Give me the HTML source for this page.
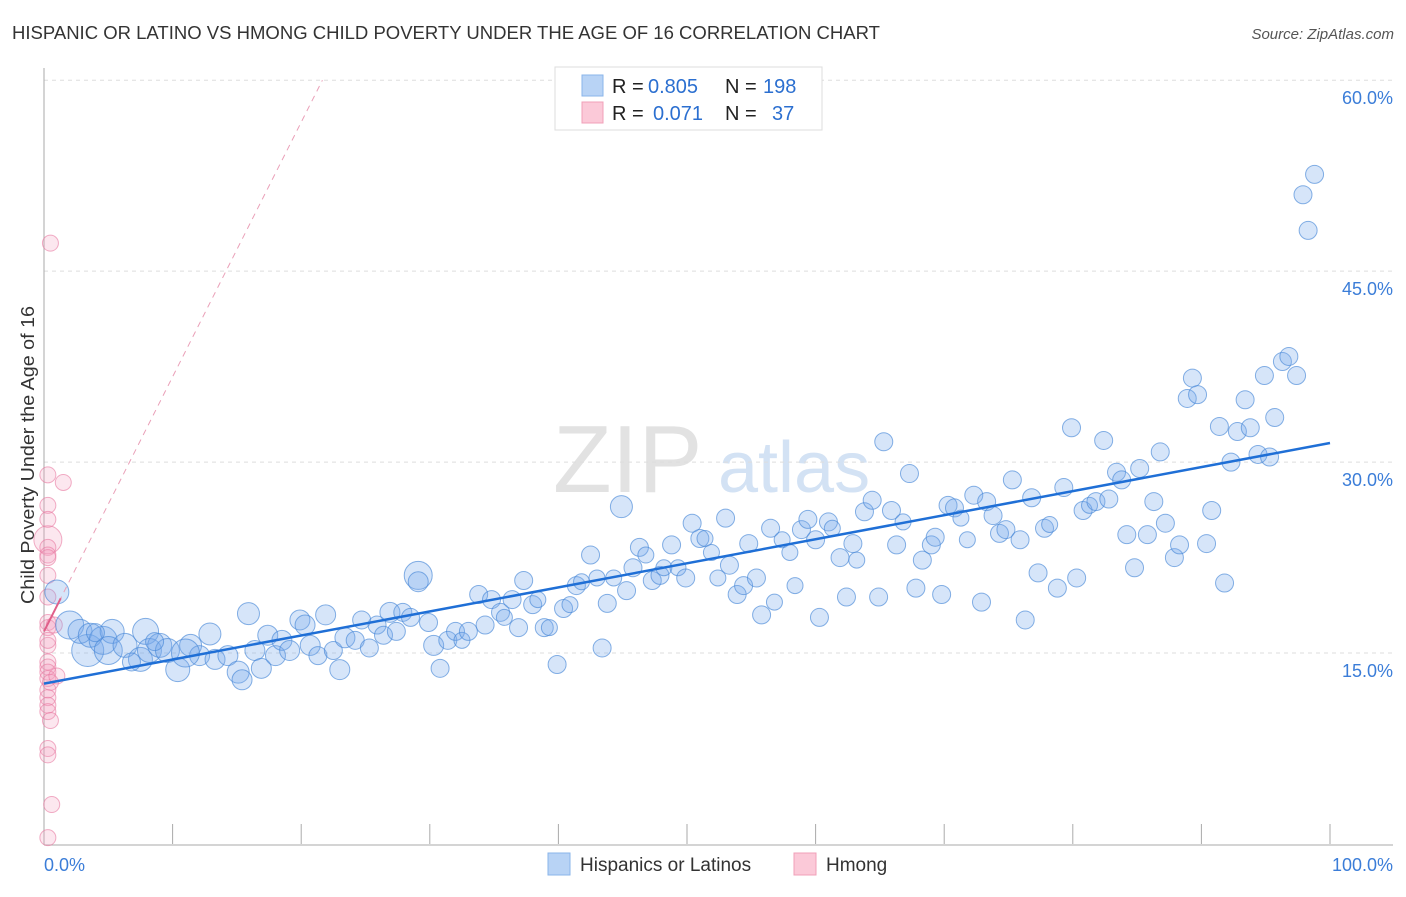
<!DOCTYPE html>
<html><head><meta charset="utf-8"><style>
body{margin:0;background:#fff;font-family:"Liberation Sans",sans-serif}
svg text{font-family:"Liberation Sans",sans-serif}
</style></head><body>
<svg id="chart" width="1406" height="892">
<text x="12" y="39" font-size="18" fill="#333" textLength="868" lengthAdjust="spacingAndGlyphs">HISPANIC OR LATINO VS HMONG CHILD POVERTY UNDER THE AGE OF 16 CORRELATION CHART</text>
<text x="1394" y="39" font-size="15" fill="#555" font-style="italic" text-anchor="end">Source: ZipAtlas.com</text>
<g><text x="553" y="492" font-size="96" font-family="Liberation Serif" fill="#e2e2e2">ZIP</text><text x="718" y="492" font-size="72" fill="#d3e2f4">atlas</text></g>
<text transform="translate(34,455) rotate(-90)" font-size="18" fill="#333" text-anchor="middle" textLength="298" lengthAdjust="spacingAndGlyphs">Child Poverty Under the Age of 16</text>
<g id="grid"></g><g id="marks"></g>
<g>
<rect x="555" y="67" width="267" height="63" fill="#fff" stroke="#ddd"/>
<rect x="582" y="75" width="21" height="21" fill="#b8d3f5" stroke="#8ab4ea"/>
<rect x="582" y="102" width="21" height="21" fill="#fbc9d8" stroke="#f0a0b8"/>
<text x="612" y="93" font-size="20" fill="#222">R =</text>
<text x="648" y="93" font-size="20" fill="#2b6fd0">0.805</text>
<text x="725" y="93" font-size="20" fill="#222">N =</text>
<text x="763" y="93" font-size="20" fill="#2b6fd0">198</text>
<text x="612" y="120" font-size="20" fill="#222">R =</text>
<text x="653" y="120" font-size="20" fill="#2b6fd0">0.071</text>
<text x="725" y="120" font-size="20" fill="#222">N =</text>
<text x="772" y="120" font-size="20" fill="#2b6fd0">37</text>
</g>
<g>
<rect x="548" y="853" width="22" height="22" fill="#b8d3f5" stroke="#8ab4ea"/>
<text x="580" y="871" font-size="19" fill="#333">Hispanics or Latinos</text>
<rect x="794" y="853" width="22" height="22" fill="#fbc9d8" stroke="#f0a0b8"/>
<text x="826" y="871" font-size="19" fill="#333">Hmong</text>
</g>
</svg>
<script>
const yTicks=[15,30,45,60];
const yTickLabels=["15.0%","30.0%","45.0%","60.0%"];
const xTicks=[0,10,20,30,40,50,60,70,80,90,100];
const xTickLabels=["0.0%","100.0%"];
const blueX=[1.0,2.0,3.4,2.8,3.6,4.6,5.3,5.0,6.3,7.5,7.9,8.2,9.0,9.6,10.4,11.4,12.1,12.9,13.3,14.3,15.1,15.4,15.9,16.4,16.9,17.4,18.0,18.5,19.1,19.9,20.3,20.7,21.3,21.9,22.5,23.0,23.4,24.2,24.7,25.3,25.9,26.4,26.9,27.4,27.9,28.5,29.1,29.1,29.9,30.3,30.8,31.4,32.0,32.5,33.0,33.8,34.3,34.8,35.5,35.8,36.4,36.9,37.3,38.0,38.4,38.9,39.3,39.9,40.4,40.9,41.4,41.8,42.5,43.0,43.4,43.8,44.3,44.9,45.3,45.8,46.3,46.8,47.3,47.9,48.2,48.8,49.3,49.9,50.4,51.0,51.4,51.9,52.4,53.0,53.3,53.9,54.4,54.8,55.4,55.8,56.5,56.8,57.4,58.0,58.4,58.9,59.4,60.0,60.3,61.0,61.3,61.9,62.4,62.9,63.2,63.8,64.4,64.9,65.3,65.9,66.3,66.8,67.3,67.8,68.3,69.0,69.3,69.8,70.3,70.8,71.3,71.8,72.3,72.9,73.3,73.8,74.3,74.8,75.3,75.9,76.3,76.8,77.3,77.8,78.2,78.8,79.3,79.9,80.3,80.8,81.3,81.8,82.4,82.8,83.4,83.8,84.2,84.8,85.2,85.8,86.3,86.8,87.2,87.9,88.3,88.9,89.3,89.7,90.4,90.8,91.4,91.8,92.3,92.8,93.4,93.8,94.4,94.9,95.3,95.7,96.3,96.8,97.4,97.9,98.3,98.8,4.0,6.8,8.6,11.0];
const blueY=[19.8,17.2,15.2,16.7,16.4,16.0,16.7,15.2,15.6,14.5,16.7,15.2,15.6,15.2,13.7,15.6,14.8,16.5,14.5,14.8,13.5,12.9,18.1,15.2,13.8,16.4,14.8,16.0,15.2,17.6,17.2,15.6,14.8,18.0,15.2,13.7,16.2,16.0,17.6,15.4,17.2,16.4,18.2,16.7,18.2,17.8,21.1,20.6,17.4,15.6,13.8,16.0,16.7,16.0,16.7,19.6,17.2,19.2,18.2,17.8,19.2,17.0,20.7,18.8,19.2,17.0,17.0,14.1,18.5,18.8,20.3,20.6,22.7,20.9,15.4,18.9,20.9,26.5,19.9,21.7,23.3,22.7,20.7,21.1,21.7,23.5,21.7,20.9,25.2,24.0,24.0,22.9,20.9,25.6,21.9,19.6,20.3,23.6,20.9,18.0,24.8,19.0,23.9,22.9,20.3,24.7,25.5,23.9,17.8,25.3,24.8,22.5,19.4,23.6,22.3,26.1,27.0,19.4,31.6,26.2,23.5,25.3,29.1,20.1,22.3,23.5,24.1,19.6,26.6,26.4,25.6,23.9,27.4,19.0,26.9,25.8,24.4,24.7,28.6,23.9,17.6,27.2,21.3,24.8,25.1,20.1,28.0,32.7,20.9,26.2,26.6,26.9,31.7,27.1,29.2,28.6,24.3,21.7,29.5,24.3,26.9,30.8,25.2,22.5,23.5,35.0,36.6,35.3,23.6,26.2,32.8,20.5,30.0,32.4,34.9,32.7,30.6,36.8,30.4,33.5,37.9,38.3,36.8,51.0,48.2,52.6,16.6,14.3,15.9,15.0];
const blueR=[12,14,16,12,12,14,12,14,12,12,13,12,12,12,12,11,10,11,10,10,11,10,11,10,10,10,10,10,10,10,10,10,9,10,9,10,10,9,9,9,9,9,10,9,9,9,14,10,9,10,9,9,9,8,9,9,9,9,9,8,9,9,9,9,8,9,8,9,9,8,9,8,9,8,9,9,8,11,9,9,9,8,9,9,8,9,8,9,9,9,8,8,8,9,9,9,9,9,9,9,9,8,8,8,8,9,9,9,9,9,8,9,9,9,8,9,9,9,9,9,9,8,9,9,9,9,9,9,9,9,8,8,9,9,9,9,9,9,9,9,9,9,9,9,8,9,9,9,9,9,8,9,9,9,9,9,9,9,9,9,9,9,9,9,9,9,9,9,9,9,9,9,9,9,9,9,9,9,9,9,9,9,9,9,9,9,9,9,9,14,12,12,12];
const pinkX=[0.5,0.3,1.5,0.3,0.3,0.3,0.3,0.3,0.3,0.3,0.3,0.3,0.3,0.3,0.3,0.3,0.3,0.5,0.3,0.3,0.3,0.3,0.5,0.3,0.3,0.6,0.3,1.0,0.8,0.3,0.3];
const pinkY=[47.2,29.0,28.4,26.6,25.5,23.9,23.3,22.7,21.1,19.4,17.4,17.0,15.6,14.3,13.9,13.5,13.0,12.7,12.1,11.5,10.9,10.4,9.7,7.5,7.0,3.1,0.5,13.2,17.2,22.5,16.0];
const pinkR=[8,8,8,8,8,14,8,8,8,8,8,8,8,8,8,8,8,8,8,8,8,8,8,8,8,8,8,8,8,8,8];
const blueFit=[12.6,31.5];
const pinkFit=[16.7,2.0];
const X0=44,X1=1330,YB=844,PPU=12.73;
const sx=v=>X0+(X1-X0)*v/100, sy=v=>YB-v*PPU;
const NS="http://www.w3.org/2000/svg";
function mk(tag,attrs,parent){const e=document.createElementNS(NS,tag);for(const k in attrs)e.setAttribute(k,attrs[k]);parent.appendChild(e);return e;}
const grid=document.getElementById('grid'),marks=document.getElementById('marks');
yTicks.forEach((t,i)=>{
 const l=mk('line',{x1:X0,x2:1393,y1:sy(t),y2:sy(t),stroke:'#ddd','stroke-dasharray':'4,4'},grid);
 
 
 const tx=mk('text',{x:1393,y:sy(t)+24,'font-size':18,fill:'#3b7dd8','text-anchor':'end'},grid);
 tx.textContent=yTickLabels[i];
 
 
});
const ax=mk('line',{x1:X0,x2:X0,y1:68,y2:YB+1,stroke:'#aaa'},grid);


const bx=mk('line',{x1:X0,x2:1393,y1:YB+1,y2:YB+1,stroke:'#aaa'},grid);


xTicks.forEach(t=>{if(t===0)return;
 const l=mk('line',{x1:sx(t),x2:sx(t),y1:YB-20,y2:YB,stroke:'#aaa'},grid);
 
 
});
[[0,'start',X0],[100,'end',1393]].forEach((a,i)=>{
 const tx=mk('text',{x:a[2],y:871,'font-size':18,fill:'#3b7dd8','text-anchor':a[1]},grid);
 tx.textContent=xTickLabels[i];
 
 
});
pinkX.forEach((x,i)=>{
 const c=mk('circle',{cx:sx(x),cy:sy(pinkY[i]),r:pinkR[i],fill:'rgba(245,160,190,0.25)',stroke:'rgba(232,120,160,0.6)'},marks);
 
 
});
blueX.forEach((x,i)=>{
 const c=mk('circle',{cx:sx(x),cy:sy(blueY[i]),r:blueR[i],fill:'rgba(120,170,235,0.3)',stroke:'rgba(70,135,215,0.65)'},marks);
 
 
});
const pxEnd=(60-pinkFit[0])/pinkFit[1];
const pd=mk('line',{x1:sx(0),y1:sy(pinkFit[0]),x2:sx(pxEnd),y2:sy(60),stroke:'#eaa0b8','stroke-dasharray':'6,5'},marks);


const ps=mk('line',{x1:sx(0),y1:sy(pinkFit[0]),x2:sx(1.3),y2:sy(pinkFit[0]+pinkFit[1]*1.3),stroke:'#e0608a','stroke-width':2},marks);


const bl=mk('line',{x1:sx(0),y1:sy(blueFit[0]),x2:sx(100),y2:sy(blueFit[1]),stroke:'#1f6fd6','stroke-width':2.5},marks);


</script>
</body></html>
